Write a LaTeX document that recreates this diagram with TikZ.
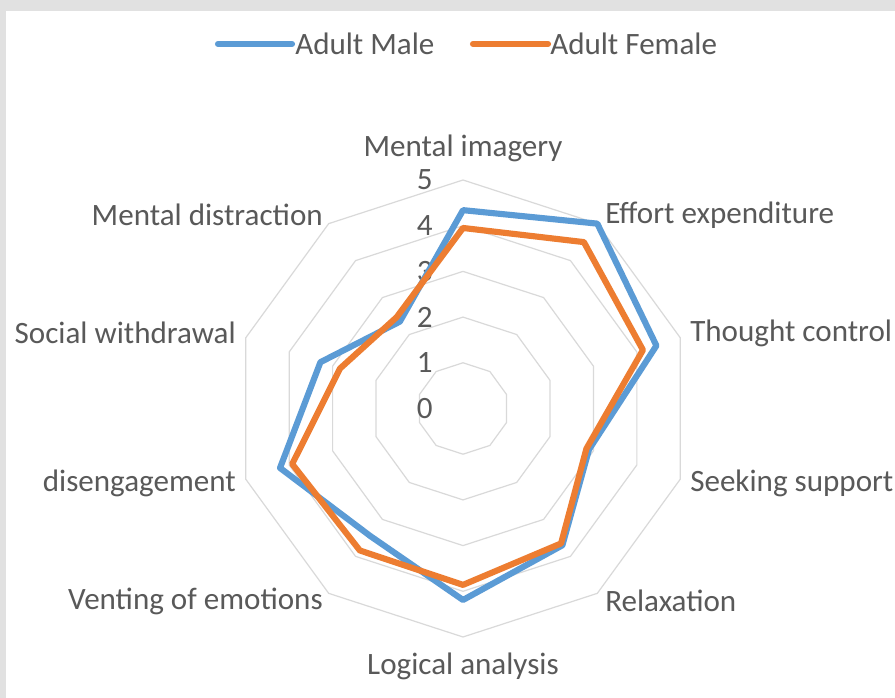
\documentclass[tikz,border=0pt]{standalone}
\usepackage{fontspec}
\setmainfont{Carlito}
\definecolor{malecol}{HTML}{5B9BD5}
\definecolor{femalecol}{HTML}{ED7D31}
\definecolor{ringgray}{HTML}{D9D9D9}
\definecolor{labelgray}{HTML}{595959}
\definecolor{framegray}{HTML}{E1E1E1}
\begin{document}
\begin{tikzpicture}[x=0.75pt,y=0.75pt]

    \tikzset{
      ring/.style={
        draw=ringgray,
        line width=0.9pt,
      },
      series/.style={
        line width=4.6pt,
        line join=round,
        line cap=round,
      },
      axislabel/.style={
        text=labelgray,
        font=\fontsize{23.3}{28}\selectfont,
        inner sep=0pt,
      },
    }
    \useasboundingbox (0,0) rectangle (895,698);
    \fill[framegray] (0,0) rectangle (895,698);
    \fill[white] (6,0) rectangle (895,687);

    % legend
    \coordinate (mleft) at (218,654);
    \coordinate (mright) at (292,654);
    \coordinate (fleft) at (473,654);
    \coordinate (fright) at (548,654);
    \draw[series, color=malecol] (mleft) -- (mright);
    \draw[series, color=femalecol] (fleft) -- (fright);
    \node[axislabel, anchor=west] (male) at (295,654) {Adult Male};
    \node[axislabel, anchor=west] (female) at (550,654) {Adult Female};

    \begin{scope}[shift={(463,289.5)}, x=34.275pt, y=34.275pt]
	\foreach \lv in {1,...,5}
	  \draw[ring] (90:\lv) \foreach \a in {54,18,-18,-54,-90,-126,-162,162,126} { -- (\a:\lv) } -- cycle;
	\foreach \lv in {0,...,5}
	  \node[axislabel, anchor=east] (val\lv) at (-0.66,\lv) {\lv};

	\draw[series, color=malecol] (90:4.34) -- (54:5.0) -- (18:4.45) -- (-18:2.9) -- (-54:3.7) -- (-90:4.19) -- (-126:3.45) -- (-162:4.21) -- (162:3.28) -- (126:2.35) -- cycle;
	\draw[series, color=femalecol] (90:3.95) -- (54:4.5) -- (18:4.14) -- (-18:2.84) -- (-54:3.65) -- (-90:3.86) -- (-126:3.84) -- (-162:3.93) -- (162:2.83) -- (126:2.47) -- cycle;
    \end{scope}

    % category labels
    \node[axislabel] (imagery) at (463,550) {Mental imagery};
    \node[axislabel, anchor=west] (effort) at (605,483) {Effort expenditure};
    \node[axislabel, anchor=west] (thought) at (690,365) {Thought control};
    \node[axislabel, anchor=west] (support) at (690,215) {Seeking support};
    \node[axislabel, anchor=west] (relax) at (605,97) {Relaxation};
    \node[axislabel] (logic) at (463,32) {Logical analysis};
    \node[axislabel, anchor=east] (venting) at (323,97) {Venting of emotions};
    \node[axislabel, anchor=east] (diseng) at (236,215) {disengagement};
    \node[axislabel, anchor=east] (withdraw) at (236,365) {Social withdrawal};
    \node[axislabel, anchor=east] (distract) at (323,483) {Mental distraction};

\end{tikzpicture}
\end{document}
